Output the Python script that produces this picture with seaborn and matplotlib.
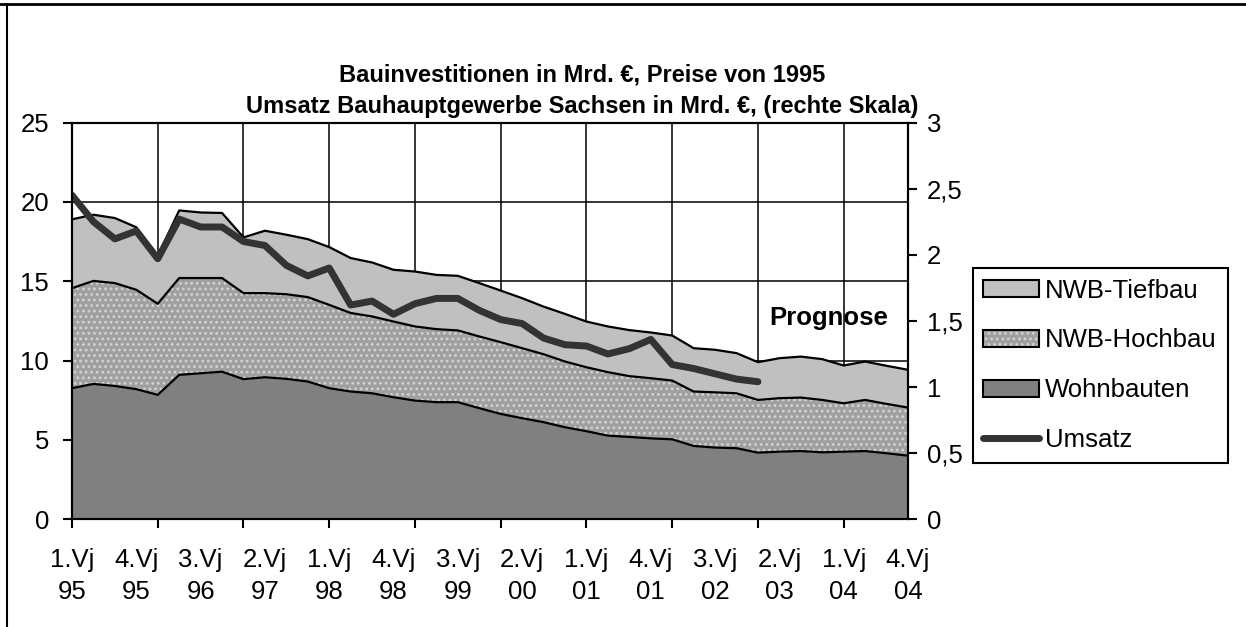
"""
Bauinvestitionen Sachsen: gestapelte Flaechen + Umsatz (rechte Skala)
"""
import numpy as np
import pandas as pd
import seaborn as sns
import matplotlib.pyplot as plt
from matplotlib.patches import Patch
from matplotlib.lines import Line2D
from matplotlib.legend_handler import HandlerTuple
from matplotlib.ticker import FuncFormatter, MultipleLocator

# Werte je Quartal, 1.Vj 95 bis 4.Vj 04 (Mrd. EUR)
wohnbauten = [8.26, 8.53, 8.40, 8.20, 7.84, 9.10, 9.20, 9.30, 8.83, 8.95,
              8.85, 8.68, 8.26, 8.05, 7.94, 7.69, 7.48, 7.38, 7.38, 7.00,
              6.64, 6.37, 6.12, 5.80, 5.55, 5.27, 5.19, 5.10, 5.04, 4.62,
              4.52, 4.48, 4.20, 4.26, 4.30, 4.22, 4.26, 4.30, 4.16, 4.01]
hochbau = [6.30, 6.49, 6.48, 6.26, 5.74, 6.10, 6.00, 5.90, 5.42, 5.30,
           5.33, 5.32, 5.25, 4.95, 4.84, 4.77, 4.67, 4.60, 4.52, 4.52,
           4.52, 4.41, 4.28, 4.14, 4.03, 4.00, 3.83, 3.79, 3.70, 3.43,
           3.48, 3.46, 3.32, 3.37, 3.37, 3.30, 3.05, 3.22, 3.11, 3.03]
tiefbau = [4.34, 4.17, 4.10, 3.94, 3.02, 4.26, 4.13, 4.10, 3.51, 3.93,
           3.75, 3.65, 3.64, 3.46, 3.40, 3.26, 3.46, 3.42, 3.44, 3.36,
           3.25, 3.15, 3.00, 3.00, 2.88, 2.88, 2.90, 2.88, 2.84, 2.73,
           2.68, 2.53, 2.38, 2.52, 2.58, 2.57, 2.38, 2.42, 2.40, 2.38]
# Umsatz Bauhauptgewerbe, bis 1.Vj 03
umsatz = [2.45, 2.25, 2.12, 2.18, 1.97, 2.27, 2.21, 2.21, 2.10, 2.07,
          1.92, 1.84, 1.90, 1.62, 1.65, 1.55, 1.63, 1.67, 1.67, 1.58,
          1.51, 1.48, 1.37, 1.32, 1.31, 1.25, 1.29, 1.36, 1.17, 1.14,
          1.10, 1.06, 1.04]
tick_labels = ["1.Vj\n95", "4.Vj\n95", "3.Vj\n96", "2.Vj\n97", "1.Vj\n98",
               "4.Vj\n98", "3.Vj\n99", "2.Vj\n00", "1.Vj\n01", "4.Vj\n01",
               "3.Vj\n02", "2.Vj\n03", "1.Vj\n04", "4.Vj\n04"]

quarters = np.arange(len(wohnbauten))
df = pd.DataFrame({"q": quarters, "Wohnbauten": wohnbauten,
                   "NWB-Hochbau": hochbau, "NWB-Tiefbau": tiefbau})
df_u = pd.DataFrame({"q": quarters[:len(umsatz)], "Umsatz": umsatz})

# Stapel-Obergrenzen
top1 = df["Wohnbauten"].values
top2 = top1 + df["NWB-Hochbau"].values
top3 = top2 + df["NWB-Tiefbau"].values

sns.set_theme(style="white")
plt.rcParams["font.family"] = ["Liberation Sans", "DejaVu Sans"]
plt.rcParams["hatch.linewidth"] = 1.2
plt.rcParams["text.color"] = "black"
plt.rcParams["xtick.color"] = "black"
plt.rcParams["ytick.color"] = "black"
plt.rcParams["xtick.labelcolor"] = "black"
plt.rcParams["ytick.labelcolor"] = "black"

fs = 18.5
c_tief, c_hoch, c_wohn, c_ums = "#c0c0c0", "#a0a0a0", "#808080", "#333333"
dots = "#d4d4d4"

fig = plt.figure(figsize=(12.46, 6.27), dpi=100)
ax = fig.add_axes([72 / 1246, 1 - 519.3 / 627, (908 - 72) / 1246,
                   (519.3 - 122.5) / 627])

ax.fill_between(quarters, 0, top1, color=c_wohn, lw=0, zorder=2)
ax.fill_between(quarters, top1, top2, facecolor=c_hoch, hatch="...",
                edgecolor=dots, lw=0, zorder=2)
ax.fill_between(quarters, top2, top3, color=c_tief, lw=0, zorder=2)
for top in (top1, top2, top3):
    sns.lineplot(x=quarters, y=top, color="black", lw=1.6, ax=ax, zorder=3)

ax.set_xlim(0, 39)
ax.set_ylim(0, 25)
ax.yaxis.set_major_locator(MultipleLocator(5))
# Beschriftung alle 3 Quartale, Striche + Gitter jedes Jahr
ax.xaxis.remove_overlapping_locs = False
ax.set_xticks(range(0, 40, 4))
ax.set_xticklabels([])
ax.set_xticks(range(0, 40, 3), minor=True)
ax.set_xticklabels(tick_labels, minor=True, fontsize=fs, linespacing=1.4)
ax.tick_params(axis="x", which="major", direction="out", length=6.5,
               width=1.5, color="black", bottom=True)
ax.tick_params(axis="x", which="minor", length=0, pad=21, bottom=True)
ax.tick_params(axis="y", direction="out", length=6.5, width=1.5,
               color="black", left=True, labelsize=fs, pad=10)
ax.grid(True, which="major", color="black", lw=1.1)
ax.set_axisbelow(True)
ax.set_xlabel("")
ax.set_ylabel("")
for s in ax.spines.values():
    s.set_color("black")
    s.set_linewidth(1.5)

ax.text(35.3, 12.7, "Prognose", ha="center", va="center",
        fontsize=fs, fontweight="bold", zorder=4)

# Umsatz auf rechter Skala
ax2 = ax.twinx()
sns.lineplot(data=df_u, x="q", y="Umsatz", ax=ax2, color=c_ums, lw=5,
             solid_capstyle="round", solid_joinstyle="round")
ax2.set_ylim(0, 3)
ax2.yaxis.set_major_locator(MultipleLocator(0.5))
ax2.yaxis.set_major_formatter(
    FuncFormatter(lambda v, p: f"{v:g}".replace(".", ",")))
ax2.tick_params(axis="y", direction="out", length=6.5, width=1.5,
                color="black", right=True, labelsize=fs, pad=7)
ax2.set_ylabel("")
ax2.set_xlabel("")
for s in ax2.spines.values():
    s.set_color("black")
    s.set_linewidth(1.5)

fig.text(0.467, 1 - 75 / 627, "Bauinvestitionen in Mrd. €, Preise von 1995",
         ha="center", va="center", fontsize=17, fontweight="bold")
fig.text(0.467, 1 - 107 / 627,
         "Umsatz Bauhauptgewerbe Sachsen in Mrd. €, (rechte Skala)",
         ha="center", va="center", fontsize=17, fontweight="bold")

handles = [
    Patch(facecolor=c_tief, edgecolor="black", lw=1.5),
    (Patch(facecolor=c_hoch, hatch="...", edgecolor=dots, lw=0),
     Patch(facecolor="none", edgecolor="black", lw=1.5)),
    Patch(facecolor=c_wohn, edgecolor="black", lw=1.5),
    Line2D([], [], color=c_ums, lw=5, solid_capstyle="round"),
]
labels = ["NWB-Tiefbau", "NWB-Hochbau", "Wohnbauten", "Umsatz"]
leg = fig.legend(handles, labels, loc="upper left",
                 bbox_to_anchor=(972.7 / 1246, 1 - 268 / 627),
                 fontsize=fs, frameon=True, fancybox=False, framealpha=1,
                 edgecolor="black", handlelength=2.15, handleheight=0.66,
                 handletextpad=0.25, labelspacing=1.0, borderpad=0.42,
                 borderaxespad=0,
                 handler_map={tuple: HandlerTuple(ndivide=1, pad=0)})
leg.get_frame().set_linewidth(1.5)

# Rahmen oben und links
fig.add_artist(Line2D([0, 1], [1 - 4 / 627, 1 - 4 / 627], color="black",
                      lw=2, transform=fig.transFigure))
fig.add_artist(Line2D([7 / 1246, 7 / 1246], [0, 1 - 4 / 627], color="black",
                      lw=1.5, transform=fig.transFigure))

plt.savefig("out.png", dpi=100)
